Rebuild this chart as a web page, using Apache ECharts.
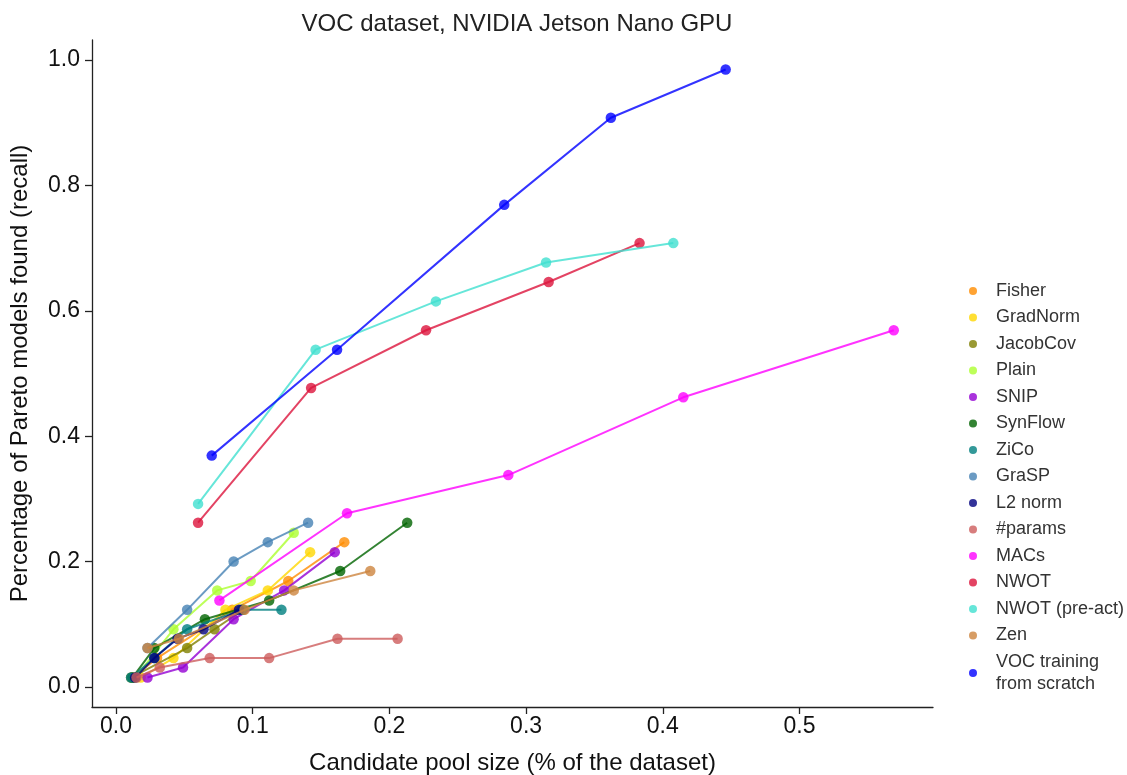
<!DOCTYPE html>
<html>
<head>
<meta charset="utf-8">
<script src="https://cdn.jsdelivr.net/npm/echarts@6/dist/echarts.min.js"></script>
<style>html,body{margin:0;padding:0;background:#fff}#c{width:1127px;height:775px}</style>
</head>
<body>
<div id="c"></div>
<script>
const seriesNames = ["Fisher","GradNorm","JacobCov","Plain","SNIP","SynFlow","ZiCo","GraSP","L2 norm","#params","MACs","NWOT","NWOT (pre-act)","Zen","VOC training\nfrom scratch"];
const fisher   = [[0.012,0.015],[0.030,0.046],[0.085,0.123],[0.126,0.169],[0.167,0.231]];
const gradNorm = [[0.018,0.015],[0.042,0.046],[0.080,0.123],[0.111,0.154],[0.142,0.215]];
const jacobCov = [[0.011,0.015],[0.052,0.062],[0.072,0.092],[0.093,0.123]];
const plain    = [[0.014,0.015],[0.042,0.092],[0.074,0.154],[0.0985,0.169],[0.130,0.246]];
const snip     = [[0.023,0.015],[0.049,0.031],[0.086,0.108],[0.123,0.154],[0.160,0.215]];
const synFlow  = [[0.012,0.015],[0.028,0.062],[0.065,0.108],[0.112,0.138],[0.164,0.185],[0.213,0.262]];
const zico     = [[0.011,0.015],[0.028,0.046],[0.052,0.092],[0.092,0.123],[0.121,0.123]];
const grasp    = [[0.023,0.062],[0.052,0.123],[0.086,0.200],[0.111,0.231],[0.1405,0.262]];
const l2norm   = [[0.014,0.015],[0.028,0.046],[0.045,0.077],[0.064,0.092],[0.090,0.123]];
const params   = [[0.015,0.015],[0.032,0.031],[0.0685,0.046],[0.112,0.046],[0.162,0.077],[0.206,0.077]];
const macs     = [[0.0756,0.138],[0.169,0.277],[0.287,0.338],[0.415,0.462],[0.569,0.569]];
const nwot     = [[0.060,0.262],[0.1427,0.477],[0.2268,0.569],[0.3165,0.646],[0.383,0.708]];
const nwotPre  = [[0.060,0.292],[0.146,0.538],[0.234,0.615],[0.3146,0.677],[0.4077,0.708]];
const zen      = [[0.023,0.062],[0.046,0.077],[0.094,0.123],[0.130,0.154],[0.186,0.185]];
const vocTrain = [[0.070,0.369],[0.1617,0.538],[0.284,0.769],[0.362,0.908],[0.446,0.985]];
const xTicks = [0.0,0.1,0.2,0.3,0.4,0.5];
const yTicks = [0.0,0.2,0.4,0.6,0.8,1.0];

const allData = [fisher,gradNorm,jacobCov,plain,snip,synFlow,zico,grasp,l2norm,params,macs,nwot,nwotPre,zen,vocTrain];
const colors = ["rgba(255,140,0,0.8)","rgba(255,215,0,0.8)","rgba(128,128,0,0.8)","rgba(173,255,47,0.8)","rgba(148,0,211,0.8)","rgba(0,100,0,0.8)","rgba(0,128,128,0.8)","rgba(70,130,180,0.8)","rgba(0,0,128,0.8)","rgba(205,92,92,0.8)","rgba(255,0,255,0.8)","rgba(220,20,60,0.8)","rgba(64,224,208,0.8)","rgba(205,133,63,0.8)","rgba(0,0,255,0.8)"];

const font = "Liberation Sans, Arial, sans-serif";
const chart = echarts.init(document.getElementById('c'), null, {renderer:'canvas'});
chart.setOption({
  animation:false,
  backgroundColor:'#fff',
  title:{text:'VOC dataset, NVIDIA Jetson Nano GPU', left:512, textAlign:'center', top:7,
    textStyle:{fontFamily:font,fontSize:24,fontWeight:'normal',color:'#222'}},
  grid:{left:92,right:194,top:40,bottom:68,containLabel:false,outerBoundsMode:'none'},
  legend:{orient:'vertical', left:964, top:275, icon:'circle', itemWidth:8, itemHeight:8, itemGap:4.5,
    data:seriesNames,
    textStyle:{fontFamily:font,fontSize:18,color:'#333',lineHeight:22,padding:[0,0,0,14]}},
  xAxis:{type:'value', min:-0.0176, max:0.5977,
    name:'Candidate pool size (% of the dataset)', nameLocation:'middle', nameGap:44,
    nameTextStyle:{fontFamily:font,fontSize:24,color:'#111'},
    axisLine:{onZero:false,lineStyle:{color:'#222',width:1.3}},
    axisTick:{show:true,inside:false,customValues:xTicks,length:7,lineStyle:{color:'#222',width:1.3}},
    axisLabel:{customValues:xTicks,formatter:v=>v.toFixed(1),fontFamily:font,fontSize:23,color:'#111',margin:8},
    splitLine:{show:false}},
  yAxis:{type:'value', min:-0.032, max:1.032,
    name:'Percentage of Pareto models found (recall)', nameLocation:'middle', nameGap:60, nameRotate:90,
    nameTextStyle:{fontFamily:font,fontSize:24,color:'#111'},
    axisLine:{show:true,onZero:false,lineStyle:{color:'#222',width:1.3}},
    axisTick:{show:true,inside:false,customValues:yTicks,length:7,lineStyle:{color:'#222',width:1.3}},
    axisLabel:{customValues:yTicks,formatter:v=>v.toFixed(1),fontFamily:font,fontSize:23,color:'#111',margin:12},
    splitLine:{show:false}},
  series: allData.map((d,i)=>({
    name:seriesNames[i], type:'line', data:d, symbol:'circle', symbolSize:10.5,
    lineStyle:{width:2,color:colors[i]}, itemStyle:{color:colors[i]}, z:2+i
  }))
});
</script>
</body>
</html>
